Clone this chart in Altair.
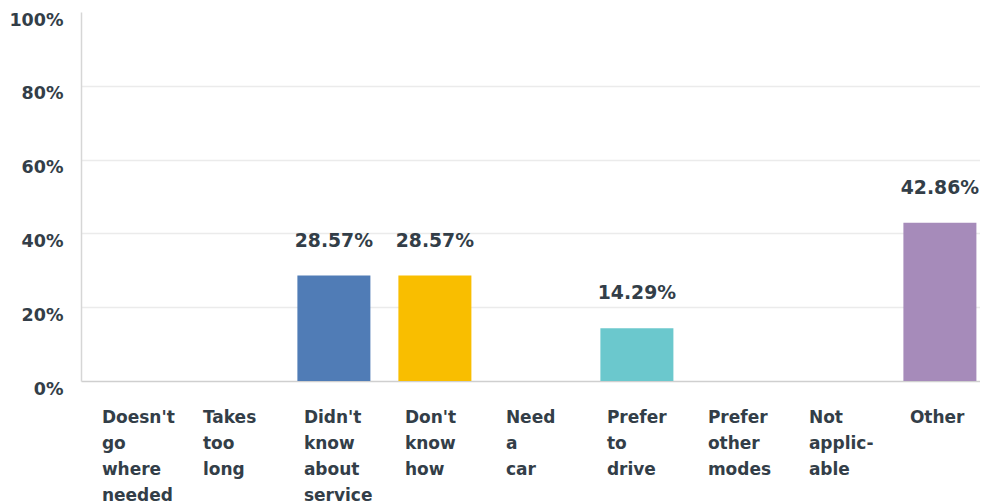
import altair as alt
import pandas as pd

categories = ["Doesn't go where needed", "Takes too long", "Didn't know about service",
              "Don't know how", "Need a car", "Prefer to drive", "Prefer other modes",
              "Not applicable", "Other"]
values = [0, 0, 28.57, 28.57, 0, 14.29, 0, 0, 42.86]
colors = ["#507cb6", "#f0a830", "#507cb6", "#f9be00", "#6bc8cd", "#6bc8cd", "#a58abe", "#a58abe", "#a68bba"]

df = pd.DataFrame({"cat": categories, "val": values, "color": colors})
df["label"] = df["val"].map(lambda v: f"{v:.2f}%")

FONT = "DejaVu Sans"
TXT = "#333e48"

x = alt.X("cat:N", sort=categories,
          scale=alt.Scale(paddingInner=0.2772, paddingOuter=0.089, align=0.8),
          axis=alt.Axis(title=None, labelAngle=0, labelAlign="left", labelBaseline="top",
                        labelOffset=-30, labelPadding=28, ticks=False, domain=True,
                        domainColor="#cfcfcf", domainWidth=1.5,
                        labelFont=FONT, labelFontSize=17, labelFontWeight="bold",
                        labelColor=TXT, labelLineHeight=26, labelLimit=0,
                        labelExpr="split(replace(datum.label, 'applicable', 'applic- able'), ' ')"))
y = alt.Y("val:Q", scale=alt.Scale(domain=[0, 100], nice=False),
          axis=alt.Axis(title=None, values=list(range(0, 101, 10)),
                        labelExpr="datum.value % 20 == 0 ? datum.value + '%' : ''",
                        ticks=False, domain=True, domainColor="#d6d6d6", domainWidth=1.5,
                        gridColor="#ebebeb", gridWidth=1.5,
                        gridOpacity=alt.condition("datum.value >= 100 || datum.value <= 0", alt.value(0), alt.value(1)),
                        labelFont=FONT, labelFontSize=17.5, labelFontWeight="bold",
                        labelColor=TXT, labelPadding=18, labelOffset=8,
                        minExtent=73, maxExtent=73))

bars = alt.Chart(df).mark_bar().encode(
    x=x, y=y,
    color=alt.Color("color:N", scale=None, legend=None),
)

texts = alt.Chart(df).transform_filter("datum.val > 0").mark_text(
    dy=-29, baseline="alphabetic", font=FONT, fontSize=18.8, fontWeight="bold", color=TXT
).encode(x=alt.X("cat:N", sort=categories), y=alt.Y("val:Q"), text="label:N")

chart = alt.layer(bars, texts).properties(
    width=899, height=369,
    padding={"left": 0, "top": 3, "right": 0, "bottom": 0},
).configure_view(stroke=None)

chart.save("out.html", embed_options={"renderer": "svg", "actions": False})
